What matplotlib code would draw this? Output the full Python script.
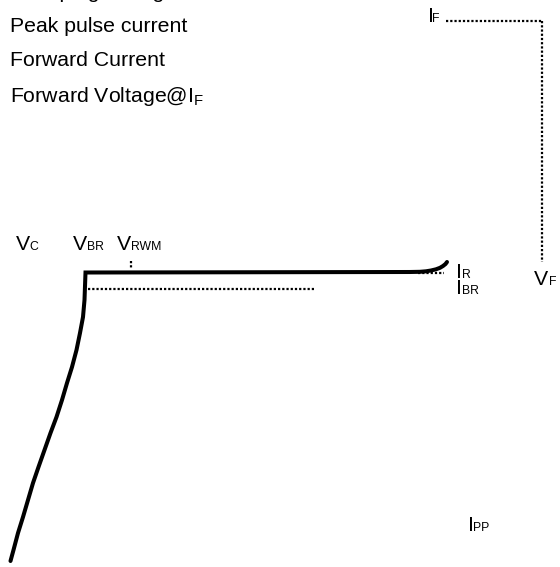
import matplotlib
matplotlib.use("Agg")
import matplotlib.pyplot as plt

plt.rcParams['font.family'] = ['Liberation Sans', 'DejaVu Sans']
plt.rcParams['mathtext.fontset'] = 'custom'
plt.rcParams['mathtext.rm'] = 'Liberation Sans'
plt.rcParams['mathtext.it'] = 'Liberation Sans'

# Legend-like descriptions (top-left)
descriptions = ["Clamping Voltage", "Peak pulse current", "Forward Current",
                r"Forward Voltage@$\mathregular{I_F}$"]
desc_baselines = [-1.5, 31.5, 66.5, 102.5]

# I-V characteristic curve (drawing coordinates, pixel-like)
curve_x = [10.5, 13.5, 18, 23, 28, 33, 38.5, 44.5, 50.5, 56.5, 62, 67, 72,
           76.5, 80, 83, 84.5, 85.5,
           410, 420, 426, 431, 436, 440, 443, 445.5, 447]
curve_y = [561, 550, 533, 517, 500, 483, 467, 450, 433, 417, 400, 383, 367,
           350, 333, 317, 300, 272.5,
           272, 271.8, 271.3, 270.5, 269.3, 267.8, 266, 264, 262]

# Dotted reference lines
dotted_lines = [
    ([446, 542], [20.5, 20.5]),      # I_F horizontal
    ([542, 542], [20.5, 262]),       # V_F vertical
    ([131, 131], [261, 269]),        # V_RWM tick
    ([88, 316], [288.5, 288.5]),     # I_BR level
    ([418, 444], [273, 273]),        # I_R level
]

# Labels: (main letter, subscript, x_main, x_sub, baseline)
labels = [
    ("V", "C", 16, 29.5, 250),
    ("V", "BR", 73, 86.5, 250),
    ("V", "RWM", 117, 131, 250),
    ("I", "R", 456.5, 462, 278),
    ("I", "BR", 456.5, 462, 294),
    ("V", "F", 534, 548.5, 285),
    ("I", "F", 427.5, 432, 22),
    ("I", "PP", 467.5, 473, 531),
]

fig = plt.figure(figsize=(5.6, 5.67), dpi=100)
ax = fig.add_axes([0, 0, 1, 1])
ax.set_xlim(0, 560)
ax.set_ylim(567, 0)
ax.axis('off')

for xs, ys in dotted_lines:
    ax.plot(xs, ys, color='black', linewidth=1.6, linestyle=(0, (1.0, 0.9)),
            solid_capstyle='butt', dash_capstyle='butt')

ax.plot(curve_x, curve_y, color='black', linewidth=2.9,
        solid_joinstyle='miter', solid_capstyle='round')

for txt, yb in zip(descriptions, desc_baselines):
    ax.text(9.5, yb, txt, fontsize=15.3, va='baseline', ha='left', color='black')

for main, sub, xm, xs, yb in labels:
    ax.text(xm, yb, main, fontsize=15.3, va='baseline', ha='left', color='black')
    ax.text(xs, yb, sub, fontsize=8.8, va='baseline', ha='left', color='black')

fig.savefig("out.png", dpi=100)
